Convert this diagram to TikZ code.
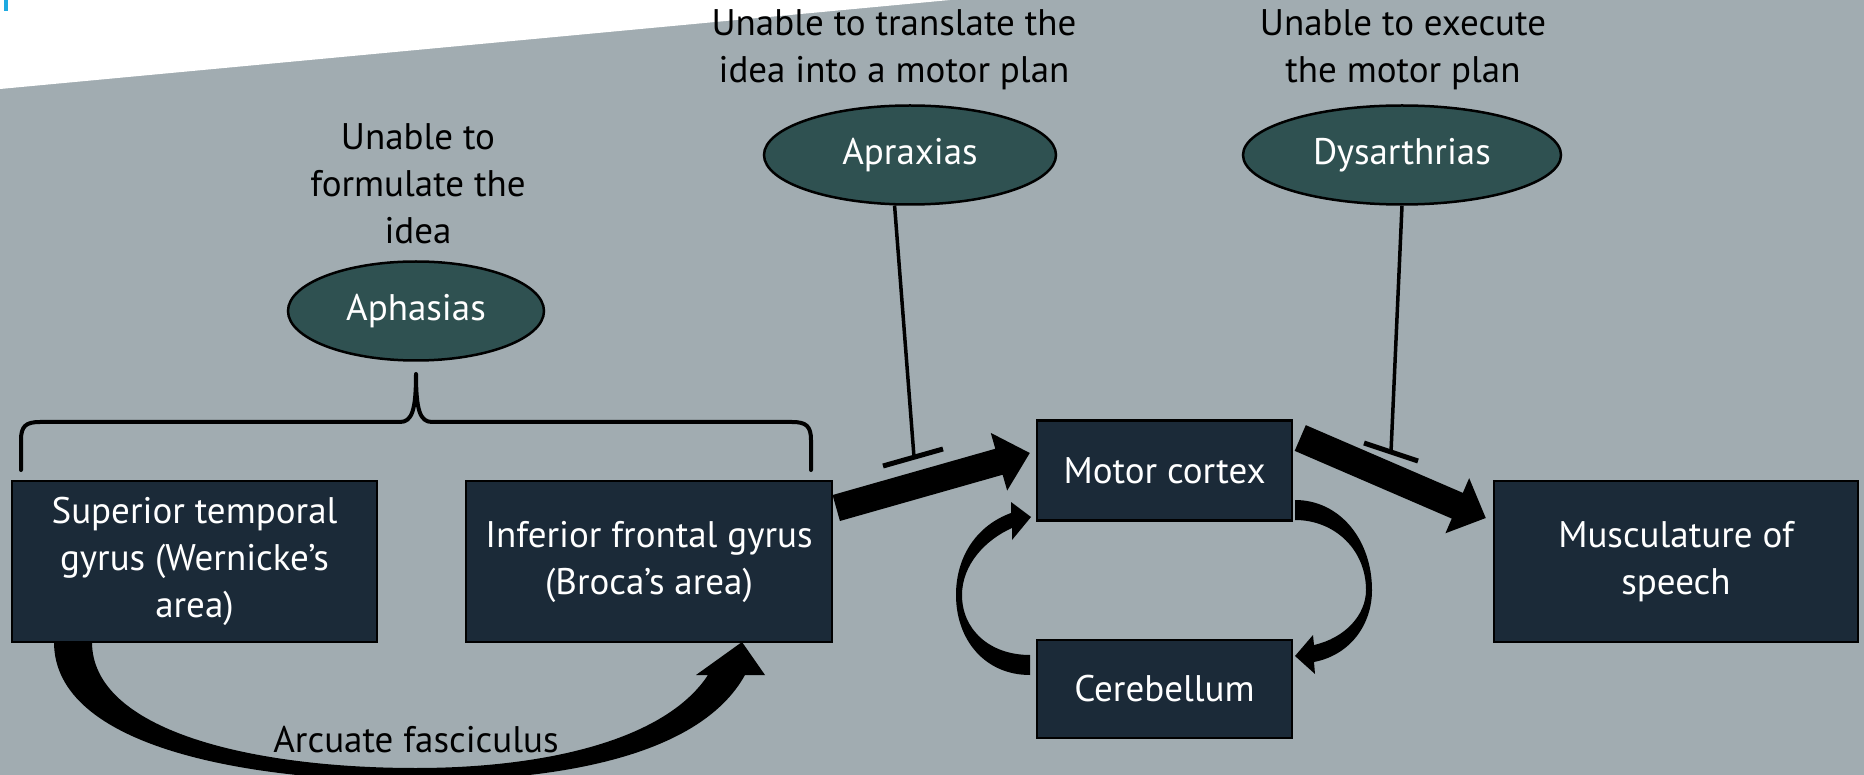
\documentclass[tikz,border=0pt]{standalone}
\usepackage{fontspec}
\setmainfont{PT Sans}
\usetikzlibrary{calc,shapes.geometric}

\definecolor{slidebg}{RGB}{161,172,177}
\definecolor{boxfill}{RGB}{27,42,56}
\definecolor{ovalfill}{RGB}{47,81,81}
\definecolor{accent}{RGB}{30,170,225}

% straight block arrow: #1 tail, #2 tip, #3 half shaft width, #4 half head width, #5 head length
\newcommand\blockarrow[5]{%
  \coordinate (bahead) at ($(#2)!#5!(#1)$);
  \fill ($(#1)!#3!90:(#2)$) -- ($(bahead)!#3!90:(#2)$) -- ($(bahead)!#4!90:(#2)$)
    -- (#2) -- ($(bahead)!#4!-90:(#2)$) -- ($(bahead)!#3!-90:(#2)$)
    -- ($(#1)!#3!-90:(#2)$) -- cycle;
}

\tikzset{
  every node/.style={inner sep=0pt, align=center, font=\fontsize{37}{47}\selectfont},
  area/.style={rectangle, draw=black, line width=2.5pt, fill=boxfill, text=white},
  disorder/.style={ellipse, draw=black, line width=2.5pt, fill=ovalfill, text=white,
    minimum height=99pt},
  caption/.style={text=black},
  inhib/.style={draw=black, line width=3.5pt},
  tbar/.style={draw=black, line width=5pt},
}

\begin{document}
\begin{tikzpicture}[x=1pt, y=-1pt]
  % slide background
  \useasboundingbox (0,0) rectangle (1864,775);
  \fill[slidebg] (0,0) rectangle (1864,775);
  \fill[white] (0,0) -- (950,0) -- (0,89) -- cycle;
  \fill[accent] (4,0) rectangle (8,11);

  % brain areas and targets
  \node[area, minimum width=365pt, minimum height=161pt] (sup) at (194.5,561.5)
    {Superior temporal\\gyrus (Wernicke’s\\area)};
  \node[area, minimum width=366pt, minimum height=161pt] (inf) at (649,561.5)
    {Inferior frontal gyrus\\(Broca’s area)};
  \node[area, minimum width=255pt, minimum height=100pt] (motor) at (1164.5,470.5)
    {Motor cortex};
  \node[area, minimum width=255pt, minimum height=98pt] (cereb) at (1164.5,689)
    {Cerebellum};
  \node[area, minimum width=364pt, minimum height=161pt] (musc) at (1676,561.5)
    {Musculature of\\speech};

  % disorders
  \node[disorder, minimum width=256pt] (aph) at (416,311) {Aphasias};
  \node[disorder, minimum width=292pt] (aprx) at (910,155) {Apraxias};
  \node[disorder, minimum width=318pt] (dys) at (1402,155) {Dysarthrias};

  % captions
  \node[caption] (capaph) at (418,184) {Unable to\\formulate the\\idea};
  \node[caption] (capaprx) at (894,50) {Unable to translate the\\idea into a motor plan};
  \node[caption] (capdys) at (1403,50) {Unable to execute\\the motor plan};

  % brace over the two language areas
  \draw[line width=4pt, line cap=round, line join=round]
    (21,470) -- (21,440) .. controls (21,426) and (26,422) .. (40,422) -- (400,422)
    .. controls (412,422) and (416,410) .. (416,374)
    .. controls (416,410) and (420,422) .. (432,422) -- (792,422)
    .. controls (806,422) and (811,426) .. (811,440) -- (811,470);

  % straight pathways
  \coordinate (a1s) at ([shift={(3,-53.5)}]inf.east);
  \coordinate (a1e) at ([shift={(-6,-17.5)}]motor.west);
  \blockarrow{a1s}{a1e}{13.5pt}{30pt}{32pt}
  \coordinate (a2s) at ([shift={(7,-32.5)}]motor.east);
  \coordinate (a2e) at ([shift={(-7,-43.5)}]musc.west);
  \blockarrow{a2s}{a2e}{14pt}{30pt}{31pt}

  % arcuate fasciculus
  \fill (54,642) -- (92,642) .. controls (92,730) and (250,768) .. (416,768)
    .. controls (540,768) and (664,742) .. (708,675) -- (696,675) -- (742,642)
    -- (765,675) -- (745,675) .. controls (700,756) and (560,781) .. (416,781)
    .. controls (250,781) and (54,748) .. (54,642) -- cycle;
  \node[caption] (arc) at (416,740) {Arcuate fasciculus};

  % motor cortex to cerebellum loop
  \fill (1295,500) .. controls (1340,500) and (1372,540) .. (1372,590)
    .. controls (1372,625) and (1350,655) .. (1314,662) -- (1315,674) -- (1295,656)
    -- (1313,635) -- (1314,645) .. controls (1345,638) and (1366,615) .. (1366,590)
    .. controls (1366,550) and (1335,520) .. (1295,520) -- cycle;
  \fill (1030,655) -- (1030,675) .. controls (985,675) and (956,640) .. (956,595)
    .. controls (956,555) and (978,525) .. (1011,513) -- (1011,502) -- (1031,517)
    -- (1012,540) -- (1012,528) .. controls (985,540) and (962,565) .. (962,595)
    .. controls (962,630) and (990,655) .. (1030,655) -- cycle;

  % inhibition of the pathways
  \coordinate (abar) at (914,457);
  \draw[inhib] (aprx.253) -- (abar);
  \draw[tbar] (883,466) -- (943,449);
  \coordinate (dbar) at (1391,452);
  \draw[inhib] (dys.south) -- (dbar);
  \draw[tbar] (1364,443) -- (1418,461);
\end{tikzpicture}
\end{document}
